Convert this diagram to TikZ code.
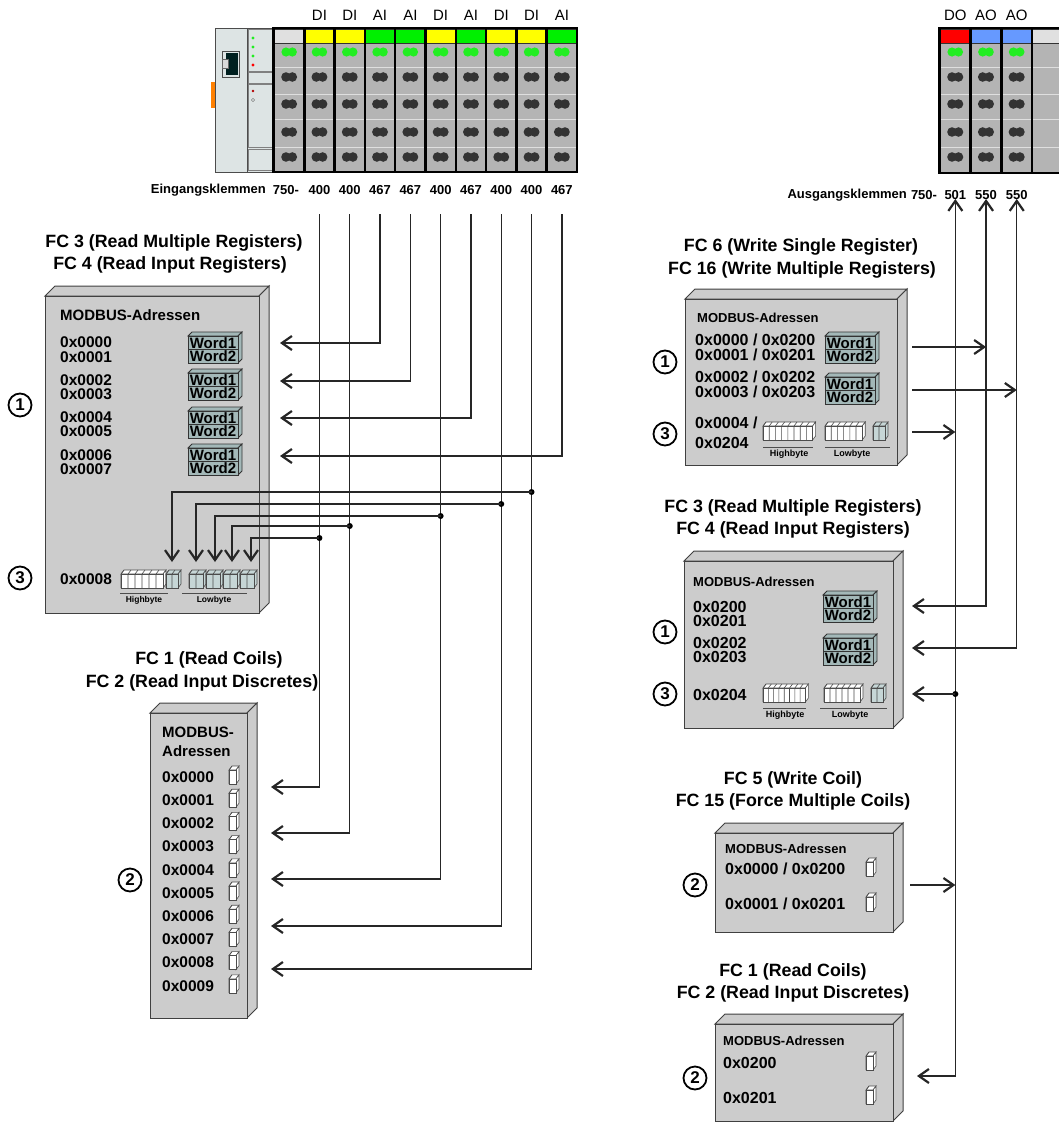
\documentclass[tikz,border=0pt]{standalone}
\usepackage{fontspec}
\setmainfont{Liberation Sans}
\usetikzlibrary{arrows.meta}

\definecolor{hdrc}{HTML}{E0E0E0}
\definecolor{yelc}{HTML}{FFFF00}
\definecolor{grnc}{HTML}{00F000}
\definecolor{redc}{HTML}{FF0000}
\definecolor{bluc}{HTML}{6699FF}
\definecolor{bodyc}{HTML}{B4B4B4}
\definecolor{ledc}{HTML}{22EE22}
\definecolor{pinc}{HTML}{333333}
\definecolor{cplc}{HTML}{DDE4E4}
\definecolor{wordc}{HTML}{A3B8B8}
\definecolor{bitc}{HTML}{C6D6D6}

\newcommand{\fsz}[1]{\fontsize{#1}{#1}\selectfont}

\tikzset{
  wire/.style={line width=1.3pt,draw=black!85},
  ttl/.style={font=\bfseries\fsz{17.8},inner sep=0pt},
  adr/.style={anchor=west,font=\bfseries\fsz{15.5},inner sep=0pt},
  adrs/.style={anchor=west,font=\bfseries\fsz{16},inner sep=0pt},
  mbl/.style={anchor=west,font=\bfseries\fsz{15},inner sep=0pt},
  mbs/.style={anchor=west,font=\bfseries\fsz{13},inner sep=0pt},
  bytel/.style={font=\bfseries\fsz{9},inner sep=0pt},
  collbl/.style={font=\fsz{15},inner sep=0pt},
  klem/.style={font=\bfseries\fsz{13},inner sep=0pt},
  circnum/.style={circle,draw,line width=1.8pt,minimum size=23pt,inner sep=0pt,font=\bfseries\fsz{17}},
  boxface/.style={fill=gray!40,draw=black!75,line width=1pt},
  wordface/.style={fill=wordc,draw=black!80,line width=0.8pt},
  wordtxt/.style={font=\bfseries\fsz{15},inner sep=0pt},
  bitface/.style={draw=black!70,line width=0.6pt},
  uline/.style={draw=black!70,line width=0.8pt},
  rowline/.style={draw=gray!25,line width=0.8pt},
  sep/.style={draw=black,line width=2.5pt}
}

% 3d address box: front face corners
\newcommand{\adrbox}[4]{%
  \filldraw[boxface] (#1,#2) -- ++(10,-10) -- (#3+10,#2-10) -- (#3,#2) -- cycle;
  \filldraw[boxface] (#3,#2) -- (#3+10,#2-10) -- (#3+10,#4-10) -- (#3,#4) -- cycle;
  \filldraw[boxface] (#1,#2) rectangle (#3,#4);
}
% two stacked words
\newcommand{\wordpair}[3]{%
  \filldraw[wordface] (#2,#3) -- ++(4,-4) -- ++(50,0) -- (#2+50,#3) -- cycle;
  \filldraw[wordface] (#2+50,#3) -- ++(4,-4) -- ++(0,27) -- (#2+50,#3+27) -- cycle;
  \filldraw[wordface] (#2,#3) rectangle ++(50,13.5);
  \filldraw[wordface] (#2,#3+13.5) rectangle ++(50,13.5);
  \node[wordtxt] (#1a) at (#2+25,#3+7) {Word1};
  \node[wordtxt] (#1b) at (#2+25,#3+20.5) {Word2};
}
% group of bits: x, y, count, cell width, fill
\newcommand{\bitgrp}[5]{%
  \pgfmathsetmacro\bitw{#3*#4}
  \filldraw[bitface,fill=#5] (#1,#2) -- ++(3,-4) -- ++(\bitw,0) -- (#1+\bitw,#2) -- cycle;
  \filldraw[bitface,fill=#5] (#1+\bitw,#2) -- ++(3,-4) -- ++(0,14) -- (#1+\bitw,#2+14) -- cycle;
  \filldraw[bitface,fill=#5] (#1,#2) rectangle ++(\bitw,14);
  \foreach \k in {1,...,#3} {\draw[bitface] (#1+\k*#4-#4,#2) -- ++(0,14) (#1+\k*#4-#4,#2) -- ++(3,-4);}
}

\begin{document}
\begin{tikzpicture}[x=1pt,y=-1pt,>={Straight Barb[length=10pt,width=14pt,line width=2.2pt]}]
  \useasboundingbox (0,0) rectangle (1059,1122);

  % Coupler
  \fill[orange] (211,82) rectangle (215,108);
  \filldraw[fill=cplc,draw=black!70,line width=0.8pt] (215,28) rectangle (273,172);
  \draw[draw=black!70,line width=0.8pt] (247,28) -- (247,172);
  \foreach \ya/\yb in {29/71,72/83,84/147,149/170}
    \draw[draw=black!50,line width=0.5pt] (248.5,\ya) rectangle (272,\yb);
  \filldraw[fill=cplc,draw=black!70] (222,51) rectangle (239,77);
  \fill[black!75!teal] (226,53) rectangle (238,75);
  \filldraw[fill=gray!30,draw=black!60] (222,59) rectangle (228,68);
  \foreach \yy in {38,47,56} \fill[ledc] (253,\yy) circle (1.6pt);
  \fill[red] (253,65) circle (1.6pt);
  \fill[red!70!black] (253,91) circle (1.4pt);
  \draw[black!60] (253,100) circle (1.6pt);

  % Input terminals
  \foreach \c [count=\i from 0] in {hdrc,yelc,yelc,grnc,grnc,yelc,grnc,yelc,yelc,grnc} {
    \pgfmathsetmacro\xa{274+30.3*\i}
    \fill[bodyc] (\xa,43) rectangle ++(30.3,129);
    \filldraw[fill=\c,draw=black!80,line width=0.8pt] (\xa,29) rectangle ++(30.3,14);
    \foreach \yy in {67,94,119,147} \draw[rowline] (\xa,\yy) -- ++(30.3,0);
    \fill[ledc] (\xa+12,52) circle (4.6pt) (\xa+18.3,52) circle (4.6pt);
    \foreach \yy in {77,104,132,157}
      \fill[pinc] (\xa+12,\yy) circle (4.8pt) (\xa+18.3,\yy) circle (4.8pt);
    \draw[sep] (\xa,28) -- ++(0,144);
  }
  \draw[sep] (273,28) rectangle (577,172);
  \foreach \t [count=\i] in {DI,DI,AI,AI,DI,AI,DI,DI,AI}
    \node[collbl] (lab\i) at ({289.15+30.3*\i},15) {\t};
  \node[klem,anchor=east] (ek) at (266,190) {Eingangsklemmen};
  \node[klem] (ek0) at (286,190) {750-};
  \foreach \t [count=\i] in {400,400,467,467,400,467,400,400,467}
    \node[klem] (ek\i) at ({289.15+30.3*\i},190) {\t};

  % Output terminals
  \foreach \c [count=\i from 0] in {redc,bluc,bluc} {
    \pgfmathsetmacro\xa{940+30.7*\i}
    \fill[bodyc] (\xa,43) rectangle ++(30.7,130);
    \filldraw[fill=\c,draw=black!80,line width=0.8pt] (\xa,29) rectangle ++(30.7,14);
    \foreach \yy in {67,94,119,147} \draw[rowline] (\xa,\yy) -- ++(30.7,0);
    \fill[ledc] (\xa+12,52) circle (4.6pt) (\xa+18.5,52) circle (4.6pt);
    \foreach \yy in {77,104,132,157}
      \fill[pinc] (\xa+12,\yy) circle (4.8pt) (\xa+18.5,\yy) circle (4.8pt);
    \draw[sep] (\xa,28) -- ++(0,145);
  }
  \fill[bodyc] (1032.1,43) rectangle (1059,173);
  \filldraw[fill=hdrc,draw=black!80,line width=0.8pt] (1032.1,29) rectangle (1060,43);
  \foreach \yy in {67,94,119,147} \draw[rowline] (1032.1,\yy) -- (1059,\yy);
  \draw[sep] (1061,28) -- (939,28) -- (939,173) -- (1061,173);
  \draw[sep] (1032.1,28) -- (1032.1,173);
  \foreach \t [count=\i from 0] in {DO,AO,AO}
    \node[collbl] (olab\i) at ({955.35+30.7*\i},15) {\t};
  \node[klem,anchor=east] (ak) at (907,195) {Ausgangsklemmen};
  \node[klem] (ak0) at (924,195) {750-};
  \foreach \t [count=\i from 0] in {501,550,550}
    \node[klem] (ak\t\i) at ({955.35+30.7*\i},195) {\t};

  % Left: registers
  \node[ttl] (tl1a) at (174,243) {FC 3 (Read Multiple Registers)};
  \node[ttl] (tl1b) at (170,265) {FC 4 (Read Input Registers)};
  \adrbox{45}{296}{259}{613}
  \node[mbl] (mb1) at (60,315) {MODBUS-Adressen};
  \foreach \a/\yy in {0000/342,0001/357,0002/380,0003/394,0004/417,0005/431,0006/455,0007/469}
    \node[adr] (la\a) at (60,\yy) {0x\a};
  \wordpair{wl1}{188}{336}
  \wordpair{wl2}{188}{373}
  \wordpair{wl3}{188}{411}
  \wordpair{wl4}{188}{448}
  \node[adr] (la0008) at (60,579) {0x0008};
  \bitgrp{121}{574}{6}{7}{white}
  \bitgrp{166}{574}{2}{6}{bitc}
  \foreach \xx in {189,206,223,240} \bitgrp{\xx}{574}{2}{7}{bitc}
  \draw[uline] (120,593) -- (168,593) (182,593) -- (247,593);
  \node[bytel,font=\bfseries\fsz{8.5}] (hbl) at (144,600) {Highbyte};
  \node[bytel,font=\bfseries\fsz{8.5}] (lbl) at (214,600) {Lowbyte};
  \node[circnum] (nl1) at (20,405) {1};
  \node[circnum] (nl3) at (20,578) {3};

  % Left: coils
  \node[ttl] (tl2a) at (209,660) {FC 1 (Read Coils)};
  \node[ttl] (tl2b) at (202,683) {FC 2 (Read Input Discretes)};
  \adrbox{150}{713}{247}{1018}
  \node[mbl] (mb2a) at (162,732) {MODBUS-};
  \node[mbl] (mb2b) at (162,751) {Adressen};
  \foreach \i in {0,...,9} {
    \pgfmathsetmacro\yy{777+23.2*\i}
    \node[adr] (lc\i) at (162,\yy) {0x000\i};
    \bitgrp{229}{\yy-7}{1}{7}{white}
  }
  \node[circnum] (nl2) at (130,880) {2};

  % Right: write registers
  \node[ttl] (tr1a) at (801,247) {FC 6 (Write Single Register)};
  \node[ttl] (tr1b) at (802,270) {FC 16 (Write Multiple Registers)};
  \adrbox{685}{299}{897}{465}
  \node[mbs] (mb3) at (697,318) {MODBUS-Adressen};
  \node[adrs] (ra0) at (695,340) {0x0000 / 0x0200};
  \node[adrs] (ra1) at (695,355) {0x0001 / 0x0201};
  \node[adrs] (ra2) at (695,377) {0x0002 / 0x0202};
  \node[adrs] (ra3) at (695,392) {0x0003 / 0x0203};
  \node[adrs] (ra4) at (695,423) {0x0004 /};
  \node[adrs] (ra5) at (695,443) {0x0204};
  \wordpair{wr1}{825}{336}
  \wordpair{wr2}{825}{377}
  \bitgrp{763}{426}{8}{6.2}{white}
  \bitgrp{825}{426}{6}{6.2}{white}
  \bitgrp{873}{426}{2}{6}{bitc}
  \draw[uline] (763,447) -- (813,447) (825,447) -- (890,447);
  \node[bytel] (hbr1) at (789,454) {Highbyte};
  \node[bytel] (lbr1) at (852,454) {Lowbyte};
  \node[circnum] (nr1) at (665,362) {1};
  \node[circnum] (nr3) at (665,434) {3};

  % Right: read registers
  \node[ttl] (tr2a) at (793,508) {FC 3 (Read Multiple Registers)};
  \node[ttl] (tr2b) at (793,530) {FC 4 (Read Input Registers)};
  \adrbox{684}{561}{893}{728}
  \node[mbs] (mb4) at (693,582) {MODBUS-Adressen};
  \foreach \a/\yy in {0200/607,0201/621,0202/643,0203/657,0204/695}
    \node[adrs] (rb\a) at (693,\yy) {0x\a};
  \wordpair{wq1}{823}{595}
  \wordpair{wq2}{823}{638}
  \bitgrp{763}{688}{8}{5.3}{white}
  \bitgrp{824}{688}{6}{6}{white}
  \bitgrp{871}{688}{2}{6}{bitc}
  \draw[uline] (763,708) -- (806,708) (820,708) -- (887,708);
  \node[bytel] (hbr2) at (785,715) {Highbyte};
  \node[bytel] (lbr2) at (850,715) {Lowbyte};
  \node[circnum] (nq1) at (665,632) {1};
  \node[circnum] (nq3) at (665,694) {3};

  % Right: write coils
  \node[ttl] (tr3a) at (793,780) {FC 5 (Write Coil)};
  \node[ttl] (tr3b) at (793,802) {FC 15 (Force Multiple Coils)};
  \adrbox{715}{833}{893}{932}
  \node[mbs] (mb5) at (725,849) {MODBUS-Adressen};
  \node[adrs] (rc0) at (725,869) {0x0000 / 0x0200};
  \node[adrs] (rc1) at (725,904) {0x0001 / 0x0201};
  \bitgrp{866}{862}{1}{7}{white}
  \bitgrp{866}{897}{1}{7}{white}
  \node[circnum] (np2) at (695,885) {2};

  % Right: read coils
  \node[ttl] (tr4a) at (793,972) {FC 1 (Read Coils)};
  \node[ttl] (tr4b) at (793,994) {FC 2 (Read Input Discretes)};
  \adrbox{715}{1024}{893}{1121}
  \node[mbs] (mb6) at (723,1041) {MODBUS-Adressen};
  \node[adrs] (rd0) at (723,1063) {0x0200};
  \node[adrs] (rd1) at (723,1098) {0x0201};
  \bitgrp{866}{1056}{1}{7}{white}
  \bitgrp{866}{1090}{1}{7}{white}
  \node[circnum] (nd2) at (695,1078) {2};

  % Wires, inputs
  \foreach \i in {1,...,9} \coordinate (t\i) at ({289.15+30.3*\i},214);
  \coordinate (w1) at (280,343);
  \coordinate (w2) at (280,381);
  \coordinate (w3) at (280,418);
  \coordinate (w4) at (280,456);
  \coordinate (k0) at (271,787);
  \coordinate (k2) at (271,833);
  \coordinate (k4) at (271,879);
  \coordinate (k6) at (271,926);
  \coordinate (k8) at (271,969);
  \coordinate (h1) at (172,562);
  \coordinate (h2) at (196,562);
  \coordinate (h3) at (215,562);
  \coordinate (h4) at (232,562);
  \coordinate (h5) at (251,562);
  \coordinate (j8) at (531.55,492);
  \coordinate (j7) at (501.25,504);
  \coordinate (j5) at (440.65,516);
  \coordinate (j2) at (349.75,526);
  \coordinate (j1) at (319.45,538);
  \draw[wire,->] (t3) |- (w1);
  \draw[wire,->] (t4) |- (w2);
  \draw[wire,->] (t6) |- (w3);
  \draw[wire,->] (t9) |- (w4);
  \draw[wire,->] (t1) |- (k0);
  \draw[wire,->] (t2) |- (k2);
  \draw[wire,->] (t5) |- (k4);
  \draw[wire,->] (t7) |- (k6);
  \draw[wire,->] (t8) |- (k8);
  \foreach \j/\h in {j8/h1,j7/h2,j5/h3,j2/h4,j1/h5} {
    \fill (\j) circle (3pt);
    \draw[wire,->] (\j) -| (\h);
  }

  % Wires, outputs
  \foreach \i in {0,1,2} \coordinate (u\i) at ({955.35+30.7*\i},199);
  \coordinate (s1) at (912,347);
  \coordinate (s2) at (912,390);
  \coordinate (s3) at (912,432);
  \coordinate (r1) at (912,606);
  \coordinate (r2) at (912,648);
  \coordinate (r3) at (912,694);
  \coordinate (q1) at (910,885);
  \coordinate (q2) at (917,1076);
  \draw[wire,<->] (q2) -| (u0);
  \draw[wire,<->] (r1) -| (u1);
  \draw[wire,<->] (r2) -| (u2);
  \draw[wire,->] (s1) -- (s1 -| u1);
  \draw[wire,->] (s2) -- (s2 -| u2);
  \draw[wire,->] (s3) -- (s3 -| u0);
  \fill (r3 -| u0) circle (3pt);
  \draw[wire,->] (r3 -| u0) -- (r3);
  \draw[wire,->] (q1) -- (q1 -| u0);
\end{tikzpicture}
\end{document}
